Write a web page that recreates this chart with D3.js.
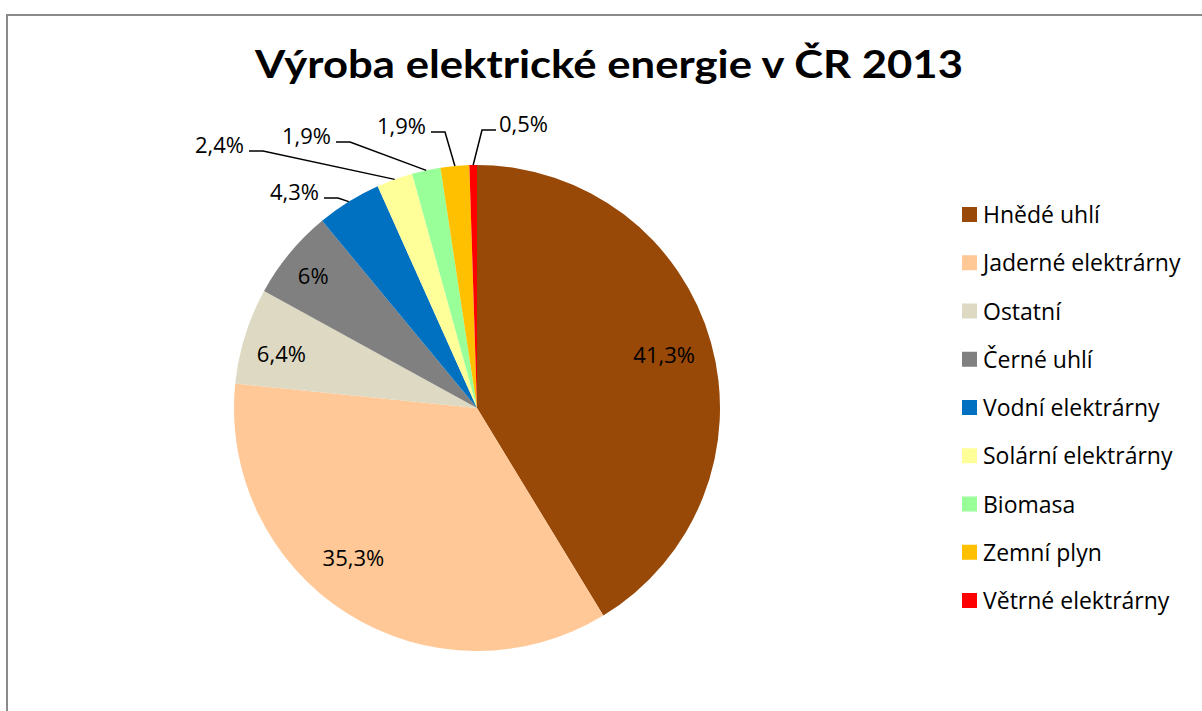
<!DOCTYPE html>
<html>
<head>
<meta charset="utf-8">
<script src="https://cdn.jsdelivr.net/npm/d3@7"></script>
<style>
  html, body { margin: 0; padding: 0; background: #fff; }
  svg { display: block; }
  text { font-family: "Open Sans", Lato, sans-serif; fill: #000; }
  .title { font-family: Lato, "Open Sans", sans-serif; }
</style>
</head>
<body>
<svg id="chart"></svg>
<script>
'use strict';

const chartTitle = 'Výroba elektrické energie v ČR 2013';
const categories = ['Hnědé uhlí', 'Jaderné elektrárny', 'Ostatní', 'Černé uhlí', 'Vodní elektrárny',
    'Solární elektrárny', 'Biomasa', 'Zemní plyn', 'Větrné elektrárny'];
const shares = [41.3, 35.3, 6.4, 6, 4.3, 2.4, 1.9, 1.9, 0.5];
const labels = ['41,3%', '35,3%', '6,4%', '6%', '4,3%', '2,4%', '1,9%', '1,9%', '0,5%'];
const colors = ['#984807', '#FFC896', '#DDD9C3', '#808080', '#0070C0', '#FFFF99', '#99FF99', '#FFC000', '#FF0000'];

const width = 1202;
const height = 711;
const cx = 477;
const cy = 408;
const radius = 243;

// hand-placed like in the original: nudges for inside labels, text anchors for the outside ones
const insideNudge = {0: [0, 0], 1: [-20, -14], 2: [-10, 4], 3: [-14, -8]};
const outsideAnchor = {
    4: {x: -153, y: -210, side: 'left'},
    5: {x: -228, y: -257, side: 'left'},
    6: {x: -141, y: -266, side: 'left'},
    7: {x: -46, y: -276, side: 'left'},
    8: {x: 19, y: -278, side: 'right'}
};
const elbowLength = 14;

const svg = d3.select('#chart').attr('width', width).attr('height', height);

// outer frame, runs off the right and bottom edge
svg.append('path')
    .attr('d', `M7,${height + 5} V15 H${width + 5}`)
    .attr('fill', 'none')
    .attr('stroke', '#8a8a8a')
    .attr('stroke-width', 2);

svg.append('text')
    .attr('class', 'title')
    .attr('x', 609)
    .attr('y', 78)
    .attr('text-anchor', 'middle')
    .attr('textLength', 708)
    .attr('lengthAdjust', 'spacingAndGlyphs')
    .style('font-size', '39px')
    .style('font-weight', 'bold')
    .text(chartTitle);

const data = categories.map((name, i) => ({name, value: shares[i], label: labels[i], color: colors[i], index: i}));

const pie = d3.pie().sort(null).value(d => d.value);
const arc = d3.arc().innerRadius(0).outerRadius(radius);
const labelArc = d3.arc().innerRadius(radius * 0.8).outerRadius(radius * 0.8);
const arcs = pie(data);

const plot = svg.append('g').attr('transform', `translate(${cx}, ${cy})`);

plot.selectAll('path.slice')
    .data(arcs)
    .enter()
    .append('path')
    .attr('class', 'slice')
    .attr('d', arc)
    .attr('fill', d => d.data.color);

const insideArcs = arcs.filter(d => insideNudge[d.data.index]);
const outsideArcs = arcs.filter(d => outsideAnchor[d.data.index]);

plot.selectAll('text.inside')
    .data(insideArcs)
    .enter()
    .append('text')
    .attr('class', 'inside')
    .attr('x', d => labelArc.centroid(d)[0] + insideNudge[d.data.index][0])
    .attr('y', d => labelArc.centroid(d)[1] + insideNudge[d.data.index][1])
    .attr('dy', '0.36em')
    .attr('text-anchor', 'middle')
    .style('font-size', '22px')
    .text(d => d.data.label);

function edgePoint(d) {
    const a = (d.startAngle + d.endAngle) / 2;
    return [Math.sin(a) * radius, -Math.cos(a) * radius];
}

plot.selectAll('polyline.leader')
    .data(outsideArcs)
    .enter()
    .append('polyline')
    .attr('class', 'leader')
    .attr('fill', 'none')
    .attr('stroke', '#000')
    .attr('stroke-width', 1.5)
    .attr('points', d => {
        const anchor = outsideAnchor[d.data.index];
        const dir = anchor.side === 'left' ? 1 : -1;
        const elbow = [anchor.x + dir * elbowLength, anchor.y];
        return [[anchor.x, anchor.y], elbow, edgePoint(d)].map(p => p.join(',')).join(' ');
    });

plot.selectAll('text.outside')
    .data(outsideArcs)
    .enter()
    .append('text')
    .attr('class', 'outside')
    .attr('x', d => {
        const anchor = outsideAnchor[d.data.index];
        return anchor.side === 'left' ? anchor.x - 5 : anchor.x + 3;
    })
    .attr('y', d => outsideAnchor[d.data.index].y + 2)
    .attr('text-anchor', d => outsideAnchor[d.data.index].side === 'left' ? 'end' : 'start')
    .style('font-size', '22px')
    .text(d => d.data.label);

// legend
const legendY = d3.scalePoint().domain(categories).range([214.5, 600.5]);

const legend = svg.append('g').attr('class', 'legend');
const items = legend.selectAll('g')
    .data(data)
    .enter()
    .append('g')
    .attr('transform', d => `translate(962, ${legendY(d.name)})`);

items.append('rect')
    .attr('x', 0)
    .attr('y', -7.5)
    .attr('width', 15)
    .attr('height', 15)
    .attr('fill', d => d.color);

items.append('text')
    .attr('x', 21)
    .attr('y', 8.5)
    .style('font-size', '23px')
    .text(d => d.name);
</script>
</body>
</html>
